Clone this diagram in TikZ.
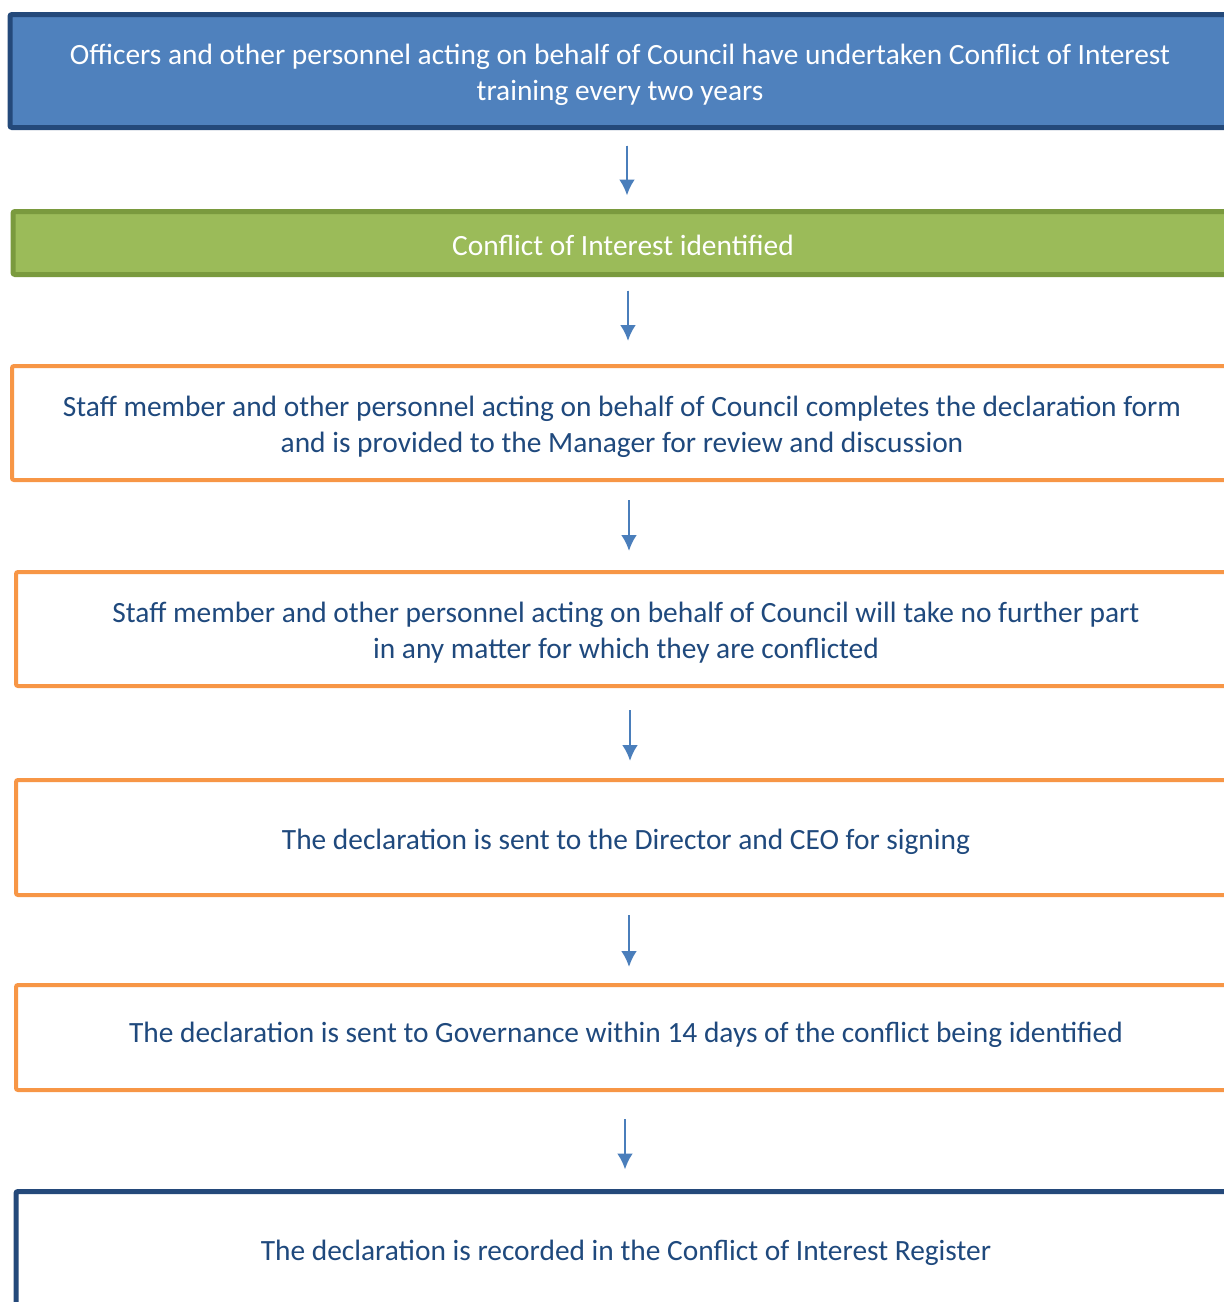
\documentclass[tikz,border=0pt]{standalone}
\usepackage{fontspec}
\setmainfont{Carlito}
\usetikzlibrary{arrows.meta}
\definecolor{hdrblue}{HTML}{4F81BD}
\definecolor{hdrline}{HTML}{24497A}
\definecolor{okgreen}{HTML}{9BBB59}
\definecolor{okline}{HTML}{7A9A3E}
\definecolor{stepline}{HTML}{F79646}
\definecolor{txtblue}{HTML}{1F497D}
\definecolor{arrblue}{HTML}{4A7EBB}
\tikzset{
  box/.style={rectangle, rounded corners=1pt, minimum width=610pt, fill=white},
  topbox/.style={box, draw=hdrline, line width=2.5pt, fill=hdrblue},
  greenbox/.style={box, draw=okline, line width=2.5pt, fill=okgreen},
  stepbox/.style={box, draw=stepline, line width=2pt},
  lastbox/.style={box, draw=hdrline, line width=2.5pt},
  txt/.style={align=center, font=\fontsize{14.7}{18}\selectfont, text=txtblue},
  txtw/.style={txt, text=white},
  arr/.style={->, draw=arrblue, fill=arrblue, line width=1.4pt}
}
\begin{document}
\begin{tikzpicture}[>={Latex[length=8pt,width=8pt]}, x=.5pt, y=-.5pt]

\useasboundingbox (0,0) rectangle (1224,1302);
\clip (0,0) rectangle (1224,1302);

% boxes
\node[topbox, minimum height=56.5pt] (b1) at (620,71) {};
\node[greenbox, minimum height=31.5pt] (b2) at (623,243) {};
\node[stepbox, minimum height=57pt] (b3) at (622,423) {};
\node[stepbox, minimum height=57pt] (b4) at (626,629) {};
\node[stepbox, minimum height=57.5pt] (b5) at (626,837.5) {};
\node[stepbox, minimum height=52.5pt] (b6) at (626,1037.5) {};
\node[lastbox, minimum height=58.5pt] (b7) at (626,1250) {};

% texts
\node[txtw] (t1) at ([yshift=-2pt]b1)
  {Officers and other personnel acting on behalf of Council have undertaken Conflict of Interest\\ training every two years};
\node[txtw] (t2) at ([yshift=-1pt]b2) {Conflict of Interest identified};
\node[txt] (t3) at ([yshift=-2pt]b3)
  {Staff member and other personnel acting on behalf of Council completes the declaration form\\ and is provided to the Manager for review and discussion};
\node[txt] (t4) at ([yshift=-2pt]b4)
  {Staff member and other personnel acting on behalf of Council will take no further part\\ in any matter for which they are conflicted};
\node[txt] (t5) at ([yshift=-2.2pt]b5) {The declaration is sent to the Director and CEO for signing};
\node[txt] (t6) at ([yshift=1.2pt]b6)
  {The declaration is sent to Governance within 14 days of the conflict being identified};
\node[txt] (t7) at ([yshift=-1.5pt]b7) {The declaration is recorded in the Conflict of Interest Register};

% arrows between the steps
\foreach \a/\b/\d/\s/\t in {b1/b2/3.5/7.75/6.75, b2/b3/2.5/6.75/11.5, b3/b4/3.5/9/9.5,
                            b4/b5/2/11/8.5, b5/b6/1.5/9/8, b6/b7/-.5/13.5/9.75}
{
    \draw [arr, shorten <=\s pt, shorten >=\t pt] ([xshift=\d pt]\a.south) -- ([xshift=\d pt]\a.south |- \b.north);
}
\end{tikzpicture}
\end{document}
